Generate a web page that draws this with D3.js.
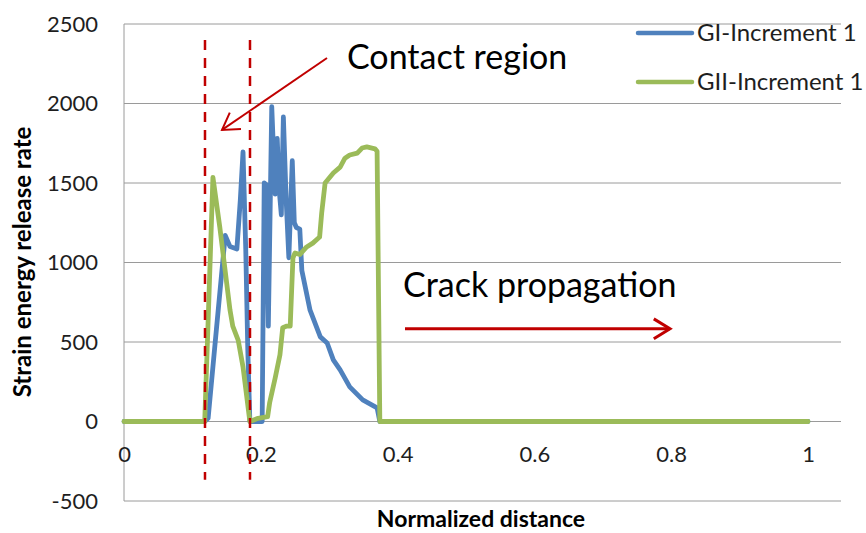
<html>
<head>
  <meta charset="utf-8">
  <script src="https://cdnjs.cloudflare.com/ajax/libs/d3/7.8.5/d3.min.js"></script>
  <style>
    body { margin: 0; background: #fff; }
    svg { display: block; font-family: Lato, "Noto Sans", sans-serif; }
  </style>
</head>
<body>
  <svg id="chart" width="866" height="533"></svg>
  <script>
    // GI curve (blue)
    var giDist = [0, 0.118, 0.123, 0.135, 0.148, 0.155, 0.165, 0.170, 0.174, 0.178, 0.181, 0.184,
      0.202, 0.205, 0.208, 0.211, 0.216, 0.221, 0.224, 0.227, 0.230, 0.233, 0.237, 0.241, 0.246,
      0.249, 0.252, 0.257, 0.260, 0.272, 0.287, 0.297, 0.306, 0.316, 0.330, 0.349, 0.370, 0.374, 1.0];
    var giRate = [0, 0, 20, 575, 1170, 1100, 1085, 1390, 1695, 1080, 450, 0,
      0, 1500, 1490, 600, 1980, 1430, 1780, 1450, 1300, 1915, 1400, 1030, 1640,
      1250, 1220, 1210, 950, 700, 532, 494, 388, 325, 218, 136, 86, 0, 0];
    // GII curve (green)
    var giiDist = [0, 0.118, 0.124, 0.130, 0.140, 0.155, 0.159, 0.167, 0.174, 0.184,
      0.196, 0.210, 0.213, 0.221, 0.228, 0.232, 0.238, 0.243, 0.247, 0.250, 0.257, 0.267,
      0.276, 0.286, 0.289, 0.294, 0.306, 0.316, 0.323, 0.330, 0.341, 0.348, 0.355, 0.367,
      0.370, 0.374, 1.0];
    var giiRate = [0, 0, 760, 1535, 1224, 700, 600, 510, 343, 0,
      20, 30, 120, 273, 420, 590, 600, 600, 1030, 1060, 1050, 1098,
      1122, 1160, 1311, 1500, 1563, 1600, 1656, 1676, 1688, 1720, 1727, 1715,
      1700, 0, 0];

    var seriesNames = ["GI-Increment 1", "GII-Increment 1"];
    var seriesColors = ["#4f81bd", "#9bbb59"];
    var yTicks = [-500, 0, 500, 1000, 1500, 2000, 2500];
    var xTicks = [0, 0.2, 0.4, 0.6, 0.8, 1];
    var contactBounds = [0.1184, 0.1842];

    var svg = d3.select("#chart");
    var margin = { top: 24, right: 25, bottom: 32, left: 124 };
    var w = 866 - margin.left - margin.right;
    var h = 533 - margin.top - margin.bottom;
    var x = d3.scaleLinear().domain([0, 1.0482]).range([0, w]);
    var y = d3.scaleLinear().domain([-500, 2500]).range([h, 0]);

    var g = svg.append("g").attr("transform", "translate(" + margin.left + "," + margin.top + ")");

    // gridlines
    g.selectAll("line.grid").data(yTicks).enter().append("line")
      .attr("x1", 0).attr("x2", w)
      .attr("y1", d => y(d)).attr("y2", d => y(d))
      .style("stroke", "#9a9a9a").style("stroke-width", 1);
    g.append("line").attr("x1", 0).attr("x2", 0).attr("y1", 0).attr("y2", h)
      .style("stroke", "#9a9a9a").style("stroke-width", 1);

    // axes
    var yAxis = g.append("g").call(d3.axisLeft(y).tickValues(yTicks).tickSize(0).tickPadding(26)
      .tickFormat(d => String(d)));
    yAxis.select(".domain").remove();
    yAxis.selectAll("text").style("font-size", "22px").style("fill", "#1e1e1e").style("font-family", "Lato");

    var xAxis = g.append("g").attr("transform", "translate(0," + y(0) + ")")
      .call(d3.axisBottom(x).tickValues(xTicks).tickSize(0).tickPadding(25).tickFormat(d => String(d)));
    xAxis.select(".domain").remove();
    xAxis.selectAll("text").style("font-size", "22px").style("fill", "#1e1e1e").style("font-family", "Lato");

    // axis titles
    svg.append("text").attr("transform", "translate(31,262) rotate(-90)")
      .attr("text-anchor", "middle").style("font-weight", "bold").style("font-size", "24px")
      .style("fill", "#000").text("Strain energy release rate");
    svg.append("text").attr("x", 481).attr("y", 527)
      .attr("text-anchor", "middle").style("font-weight", "bold").style("font-size", "23px")
      .style("fill", "#000").text("Normalized distance");

    // curves
    var line = d3.line().x(d => x(d[0])).y(d => y(d[1]));
    var series = [d3.zip(giDist, giRate), d3.zip(giiDist, giiRate)];
    g.selectAll("path.series").data(series).enter().append("path")
      .attr("d", line)
      .style("fill", "none")
      .style("stroke", (d, i) => seriesColors[i])
      .style("stroke-width", 4.8)
      .style("stroke-linejoin", "round")
      .style("stroke-linecap", "round");

    // contact region dashed lines
    g.selectAll("line.contact").data(contactBounds).enter().append("line")
      .attr("x1", d => x(d)).attr("x2", d => x(d))
      .attr("y1", y(2399)).attr("y2", y(-366))
      .style("stroke", "#c00000").style("stroke-width", 2.5)
      .style("stroke-dasharray", "10,8");

    function arrow(x1, y1, x2, y2, sw, size) {
      var ang = Math.atan2(y(y2) - y(y1), x(x2) - x(x1));
      var tx = x(x2), ty = y(y2);
      g.append("line").attr("x1", x(x1)).attr("y1", y(y1)).attr("x2", tx).attr("y2", ty)
        .style("stroke", "#c00000").style("stroke-width", sw);
      var a = 0.55;
      var p = [[tx - size * Math.cos(ang - a), ty - size * Math.sin(ang - a)], [tx, ty],
        [tx - size * Math.cos(ang + a), ty - size * Math.sin(ang + a)]];
      g.append("path").attr("d", d3.line()(p)).style("fill", "none")
        .style("stroke", "#c00000").style("stroke-width", sw).style("stroke-linejoin", "miter");
    }
    arrow(0.2968, 2286, 0.1433, 1834, 2, 19);
    arrow(0.4108, 583, 0.7982, 583, 3, 19);

    // annotation text
    g.append("text").attr("x", x(0.326)).attr("y", y(2217))
      .style("font-size", "34px").style("fill", "#000").text("Contact region");
    g.append("text").attr("x", x(0.408)).attr("y", y(783))
      .style("font-size", "34px").style("fill", "#000").text("Crack propagation");

    // legend
    var leg = svg.selectAll("g.legend").data(seriesNames).enter().append("g")
      .attr("transform", (d, i) => "translate(638," + (33 + i * 49) + ")");
    leg.append("line").attr("x1", 0).attr("x2", 54).attr("y1", 0).attr("y2", 0)
      .style("stroke", (d, i) => seriesColors[i]).style("stroke-width", 4.5)
      .style("stroke-linecap", "round");
    leg.append("text").attr("x", 59).attr("y", 0).attr("dy", "0.35em")
      .style("font-size", "24px").style("fill", "#1e1e1e").text(d => d);
  </script>
</body>
</html>
